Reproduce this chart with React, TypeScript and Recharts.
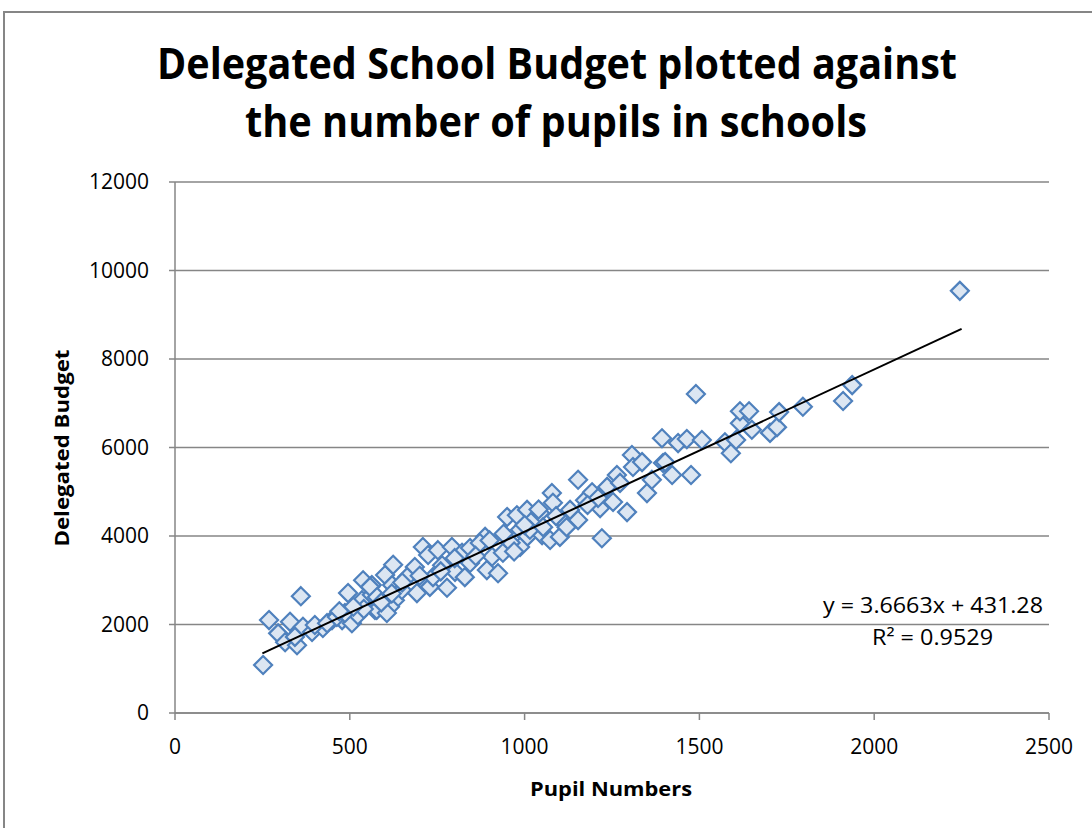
import React from "react";
import {
  ScatterChart,
  Scatter,
  XAxis,
  YAxis,
  CartesianGrid,
} from "recharts";

const BORDER = "#868686";
const MARKER_FILL = "#dce6f2";
const MARKER_STROKE = "#4f81bd";
const FONT = "'Open Sans', 'Liberation Sans', sans-serif";

// pupil numbers (x) and delegated budget (y)
const PUPILS = [
  252, 269, 295, 329, 315, 349, 360, 366, 392, 423, 449, 478, 495, 506, 523,
  535, 538, 563, 563, 572, 586, 343, 400, 435, 463, 486,
  558, 577, 601, 624, 621, 629, 615, 649, 686, 692, 709, 724, 729, 752, 764,
  778, 792, 801, 821, 829, 844, 844, 887, 892, 907, 924, 938, 950, 978, 987,
  1007, 578, 606, 664, 738, 872,
  987, 1007, 1024, 1044, 1050, 1073, 1078, 1081, 1101, 1107, 1130, 1153, 1153,
  1173, 1193, 1216, 1221, 1236, 1253, 1264, 1293, 1273, 1307, 1310, 1336, 1350,
  1364, 1396, 1015, 1053, 1210,
  1393, 1439, 1464, 1507, 1490, 1402, 1422, 1476, 1573, 1590, 1605, 1616, 1616,
  1642, 1650, 1702, 1722, 1728, 1796, 1911, 1937, 2245,
  900, 960, 970, 1000, 940, 860, 800, 760, 700, 650, 620, 590, 540, 510, 470,
  1040, 1090, 1120, 1180,
];
const BUDGET = [
  1085, 2100, 1800, 2060, 1600, 1530, 2640, 1950, 1830, 1920, 2100, 2100, 2710,
  2030, 2210, 2550, 3000, 2890, 2670, 2330, 2480, 1720, 1990, 2030, 2170, 2260,
  2850, 2330, 3120, 3350, 2890, 2550, 2400, 2780, 3300, 2710, 3750, 3570, 2850,
  3680, 3340, 2830, 3750, 3190, 3620, 3070, 3390, 3730, 3980, 3230, 3530, 3160,
  3620, 4430, 4470, 4140, 3980, 2620, 2260, 3070, 3070, 3840,
  3750, 4590, 4360, 4520, 4020, 3910, 4970, 4750, 3980, 4360, 4590, 4360, 5270,
  4810, 4990, 4630, 3950, 5110, 4770, 5380, 4540, 5200, 5830, 5560, 5670, 4970,
  5270, 5650, 4140, 4200, 4860,
  6210, 6100, 6190, 6170, 7210, 5670, 5380, 5380, 6120, 5870, 6170, 6550, 6820,
  6820, 6400, 6330, 6460, 6800, 6920, 7050, 7410, 9540,
  3900, 3850, 3650, 4250, 4050, 3550, 3500, 3200, 3100, 2950, 2700, 2500, 2350,
  2400, 2300, 4600, 4450, 4200, 4700,
];

const X_TICKS = [0, 500, 1000, 1500, 2000, 2500];
const Y_TICKS = [0, 2000, 4000, 6000, 8000, 10000, 12000];

// linear trend shown in the chart
const SLOPE = 3.6663;
const INTERCEPT = 431.28;
const TREND_X = [250, 2250];

const points = PUPILS.map((x, i) => ({ x, y: BUDGET[i] }));
const trend = TREND_X.map((x) => ({ x, y: SLOPE * x + INTERCEPT }));

// eslint-disable-next-line @typescript-eslint/no-explicit-any
function Diamond({ cx, cy }: any) {
  const r = 9;
  return (
    <path
      d={`M${cx} ${cy - r} L${cx + r} ${cy} L${cx} ${cy + r} L${cx - r} ${cy} Z`}
      fill={MARKER_FILL}
      stroke={MARKER_STROKE}
      strokeWidth={2.2}
    />
  );
}

const tickStyle = { fontSize: 21, fill: "#000", fontFamily: FONT };

export default function App() {
  return (
    <div
      style={{
        position: "fixed",
        left: 0,
        top: 0,
        width: 1092,
        height: 828,
        overflow: "hidden",
        background: "#fff",
      }}
    >
      <ScatterChart
        width={1092}
        height={828}
        margin={{ top: 182, right: 43, bottom: 55, left: 95 }}
      >
        <CartesianGrid stroke={BORDER} strokeWidth={1.5} vertical={false} />
        <XAxis
          type="number"
          dataKey="x"
          domain={[0, 2500]}
          ticks={X_TICKS}
          interval={0}
          height={60}
          tick={tickStyle}
          tickSize={7}
          tickMargin={19}
          stroke={BORDER}
          strokeWidth={1.5}
        />
        <YAxis
          type="number"
          dataKey="y"
          domain={[0, 12000]}
          ticks={Y_TICKS}
          interval={0}
          width={80}
          tick={tickStyle}
          tickSize={6}
          tickMargin={20}
          stroke={BORDER}
          strokeWidth={1.5}
        />
        <Scatter
          data={points}
          shape={<Diamond />}
          isAnimationActive={false}
        />
        <Scatter
          data={trend}
          line={{ stroke: "#000", strokeWidth: 2 }}
          shape={() => <g />}
          isAnimationActive={false}
        />
      </ScatterChart>

      <svg
        width={1092}
        height={828}
        style={{ position: "absolute", left: 0, top: 0, pointerEvents: "none" }}
      >
        <path d="M4 840 V12 H1100" fill="none" stroke={BORDER} strokeWidth={2} />
        <text
          x={557}
          y={79}
          textAnchor="middle"
          fontFamily={FONT}
          fontWeight={700}
          fontSize={43}
          textLength={800}
          lengthAdjust="spacingAndGlyphs"
        >
          Delegated School Budget plotted against
        </text>
        <text
          x={556}
          y={137}
          textAnchor="middle"
          fontFamily={FONT}
          fontWeight={700}
          fontSize={43}
          textLength={622}
          lengthAdjust="spacingAndGlyphs"
        >
          the number of pupils in schools
        </text>
        <text
          x={611}
          y={796}
          textAnchor="middle"
          fontFamily={FONT}
          fontWeight={700}
          fontSize={20}
          textLength={162}
          lengthAdjust="spacingAndGlyphs"
        >
          Pupil Numbers
        </text>
        <text
          transform="translate(69 448) rotate(-90)"
          textAnchor="middle"
          fontFamily={FONT}
          fontWeight={700}
          fontSize={20}
          textLength={197}
          lengthAdjust="spacingAndGlyphs"
        >
          Delegated Budget
        </text>
        <text
          x={1043}
          y={613}
          textAnchor="end"
          fontFamily={FONT}
          fontSize={21}
          textLength={220}
          lengthAdjust="spacingAndGlyphs"
        >
          y = 3.6663x + 431.28
        </text>
        <text
          x={993}
          y={645}
          textAnchor="end"
          fontFamily={FONT}
          fontSize={21}
          textLength={121}
          lengthAdjust="spacingAndGlyphs"
        >
          R² = 0.9529
        </text>
      </svg>
    </div>
  );
}
